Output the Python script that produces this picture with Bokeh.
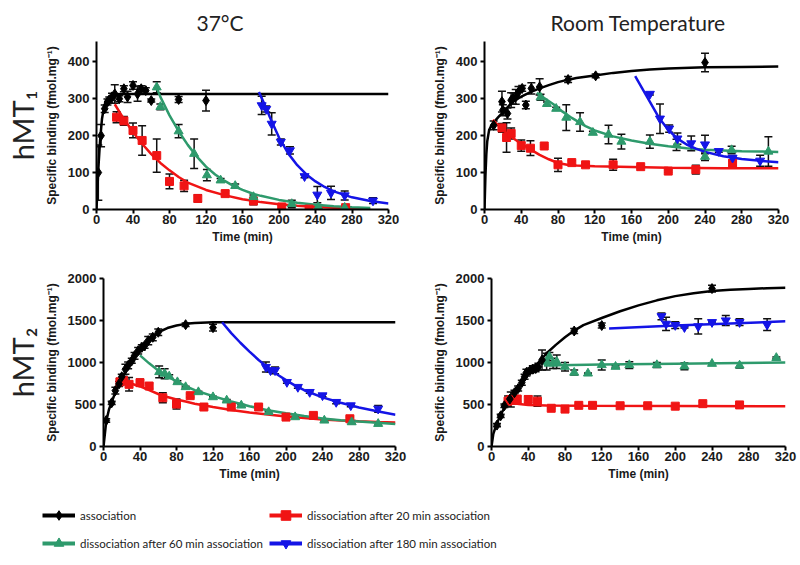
from bokeh.plotting import figure
from bokeh.models import (Range1d, FixedTicker, Whisker, TeeHead, ColumnDataSource,
                          Title, Legend, LegendItem)
from bokeh.layouts import column, row
from bokeh.embed import file_html
from bokeh.resources import INLINE

# ---------------- data ----------------
X_TICKS = [0, 40, 80, 120, 160, 200, 240, 280, 320]
Y_TICKS_MT1 = [0, 100, 200, 300, 400]
Y_TICKS_MT2 = [0, 500, 1000, 1500, 2000]
COL_TITLES = ["37°C", "Room Temperature"]
ROW_TITLES = ["hMT₁", "hMT₂"]
LEGEND_LABELS = ["association", "dissociation after 20 min association",
                 "dissociation after 60 min association", "dissociation after 180 min association"]

# Panel A: 37°C, hMT1
A_assoc_t = [2, 5, 9, 12, 14, 17, 20, 25, 30, 34, 40, 45, 49, 54, 60, 90, 120]
A_assoc_y = [100, 200, 273, 291, 297, 305, 313, 300, 327, 305, 336, 313, 327, 322, 295, 298, 295]
A_assoc_e = [75, 30, 10, 8, 8, 10, 25, 8, 8, 15, 10, 20, 8, 8, 4, 8, 28]
A_assoc_fit_t = [0, 2, 4, 6, 8, 10, 14, 20, 30, 320]
A_assoc_fit_y = [0, 110, 190, 245, 275, 292, 306, 312, 313, 313]
A_d20_t = [22, 30, 40, 50, 66, 80, 96, 111, 141, 172, 203, 233, 273]
A_d20_y = [250, 240, 214, 187, 146, 76, 64, 30, 43, 23, 7, 1, 5]
A_d20_e = [15, 12, 20, 40, 45, 20, 15, 10, 8, 10, 5, 3, 3]
A_d20_fit_t = [20, 30, 40, 50, 60, 70, 80, 90, 100, 120, 140, 160, 180, 200, 220, 240, 260, 280, 300]
A_d20_fit_y = [285, 245, 210, 178, 150, 126, 106, 88, 73, 53, 39, 28, 20, 14, 10, 7, 5, 3, 2]
A_d60_t = [66, 70, 90, 107, 121, 136, 152, 172, 214, 243, 272]
A_d60_y = [331, 278, 212, 151, 93, 79, 64, 34, 15, 7, 5]
A_d60_e = [15, 8, 18, 40, 15, 5, 5, 5, 10, 5, 3]
A_d60_fit_t = [65, 70, 80, 90, 100, 110, 120, 130, 140, 150, 160, 170, 180, 200, 220, 240, 260, 280, 300]
A_d60_fit_y = [335, 305, 255, 212, 175, 143, 116, 95, 78, 64, 53, 44, 37, 26, 18, 13, 9, 6, 4]
A_d180_t = [181, 186, 192, 202, 212, 228, 242, 257, 272, 303]
A_d180_y = [282, 272, 232, 183, 160, 90, 40, 45, 38, 24]
A_d180_e = [25, 8, 30, 8, 10, 4, 22, 18, 12, 8]
A_d180_fit_t = [178, 185, 190, 200, 210, 220, 230, 240, 250, 260, 280, 300, 320]
A_d180_fit_y = [318, 280, 250, 195, 152, 120, 95, 76, 61, 49, 33, 23, 16]

# Panel B: room temperature, hMT1
B_assoc_t = [10, 19, 20, 25, 29, 31, 34, 37, 41, 45, 51, 60, 91, 121, 240]
B_assoc_y = [228, 292, 269, 260, 296, 301, 305, 318, 328, 283, 328, 332, 352, 362, 398]
B_assoc_e = [12, 28, 15, 15, 20, 15, 20, 15, 8, 10, 15, 22, 8, 5, 25]
B_assoc_fit_t = [0, 1, 2, 3, 5, 8, 10, 15, 20, 30, 40, 50, 60, 70, 80, 90, 100, 120, 140, 160, 180, 200, 240, 280, 320]
B_assoc_fit_y = [0, 90, 150, 185, 215, 230, 236, 250, 263, 290, 306, 318, 328, 337, 345, 351, 356, 363, 370, 375, 379, 382, 385, 386, 387]
B_d20_t = [19, 24, 29, 40, 50, 65, 80, 95, 110, 140, 170, 200, 230, 270]
B_d20_y = [221, 195, 206, 173, 166, 172, 121, 127, 121, 121, 116, 104, 108, 125]
B_d20_e = [12, 40, 15, 15, 20, 3, 18, 5, 3, 15, 3, 3, 12, 5]
B_d20_fit_t = [9, 20, 30, 40, 50, 60, 70, 80, 90, 100, 120, 160, 200, 260, 320]
B_d20_fit_y = [243, 215, 195, 178, 163, 148, 136, 126, 121, 119, 117, 115, 113, 112, 112]
B_d60_t = [61, 68, 78, 89, 104, 118, 135, 149, 180, 209, 240, 269, 309]
B_d60_y = [304, 286, 273, 249, 237, 208, 203, 184, 184, 175, 143, 161, 157]
B_d60_e = [8, 5, 4, 35, 25, 4, 25, 20, 18, 15, 10, 10, 40]
B_d60_fit_t = [57, 65, 75, 85, 95, 110, 120, 140, 160, 180, 200, 220, 240, 260, 280, 300, 320]
B_d60_fit_y = [316, 302, 285, 265, 248, 226, 214, 198, 187, 178, 171, 166, 162, 160, 158, 157, 156]
B_d180_t = [180, 191, 201, 210, 225, 240, 255, 270, 300]
B_d180_y = [313, 246, 219, 192, 179, 176, 158, 140, 132]
B_d180_e = [3, 40, 10, 15, 20, 25, 3, 5, 15]
B_d180_fit_t = [164, 176, 190, 200, 210, 220, 230, 240, 260, 280, 300, 320]
B_d180_fit_y = [361, 309, 248, 216, 192, 176, 165, 156, 144, 137, 132, 128]

# Panel C: 37°C, hMT2
C_assoc_t = [3, 9, 13, 17, 20, 24, 27, 31, 34, 38, 42, 45, 49, 54, 60, 90, 120]
C_assoc_y = [310, 520, 665, 745, 830, 920, 965, 1020, 1080, 1140, 1180, 1200, 1260, 1300, 1360, 1450, 1415]
C_assoc_e = [20, 20, 40, 30, 30, 60, 40, 30, 40, 40, 30, 30, 50, 40, 40, 20, 40]
C_assoc_fit_t = [0, 3, 6, 10, 15, 20, 30, 40, 50, 60, 70, 80, 90, 100, 120, 140, 320]
C_assoc_fit_y = [0, 300, 440, 560, 700, 810, 1010, 1160, 1280, 1360, 1410, 1440, 1460, 1470, 1478, 1480, 1480]
C_d20_t = [18, 22, 28, 40, 50, 65, 80, 95, 110, 140, 170, 200, 230, 270]
C_d20_y = [770, 785, 740, 760, 720, 580, 505, 605, 470, 470, 470, 350, 370, 330]
C_d20_e = [40, 50, 80, 40, 30, 60, 60, 20, 25, 20, 20, 20, 20, 20]
C_d20_fit_t = [17, 30, 40, 50, 60, 70, 80, 90, 100, 120, 140, 160, 180, 200, 220, 240, 260, 280, 300, 320]
C_d20_fit_y = [790, 750, 715, 670, 625, 590, 560, 535, 510, 470, 435, 405, 380, 357, 340, 322, 310, 300, 293, 287]
C_d60_t = [61, 67, 72, 81, 90, 104, 120, 135, 151, 181, 210, 242, 272, 301]
C_d60_y = [887, 867, 835, 767, 708, 648, 588, 549, 489, 410, 350, 310, 290, 270]
C_d60_e = [70, 60, 20, 15, 10, 10, 10, 10, 10, 10, 10, 10, 20, 15]
C_d60_fit_t = [40, 50, 60, 70, 80, 90, 100, 120, 140, 160, 180, 200, 220, 240, 260, 280, 300, 320]
C_d60_fit_y = [1085, 990, 905, 835, 775, 720, 670, 600, 535, 480, 432, 395, 362, 333, 312, 297, 282, 268]
C_d180_t = [178, 183, 188, 201, 213, 226, 240, 255, 271, 301]
C_d180_y = [946, 906, 906, 767, 708, 648, 608, 529, 489, 449]
C_d180_e = [60, 20, 40, 15, 15, 15, 15, 20, 15, 40]
C_d180_fit_t = [130, 140, 150, 160, 170, 180, 190, 200, 210, 220, 240, 260, 280, 300, 320]
C_d180_fit_y = [1480, 1350, 1235, 1130, 1030, 940, 860, 790, 725, 670, 585, 520, 465, 420, 378]

# Panel D: room temperature, hMT2
D_assoc_t = [6, 10, 14, 20, 25, 29, 33, 36, 38, 42, 45, 48, 51, 55, 90, 120, 240]
D_assoc_y = [255, 365, 485, 565, 640, 690, 760, 830, 880, 905, 920, 930, 950, 1030, 1375, 1440, 1880]
D_assoc_e = [20, 20, 20, 40, 30, 30, 30, 30, 40, 30, 40, 40, 40, 120, 30, 30, 40]
D_assoc_fit_t = [0, 2, 5, 10, 15, 20, 30, 40, 50, 60, 70, 80, 90, 100, 120, 140, 160, 180, 200, 220, 240, 260, 280, 300, 320]
D_assoc_fit_y = [0, 150, 250, 380, 480, 570, 720, 860, 985, 1110, 1210, 1300, 1380, 1445, 1530, 1610, 1680, 1740, 1790, 1825, 1850, 1865, 1876, 1884, 1890]
D_d20_t = [18, 21, 23, 28, 40, 50, 65, 80, 95, 110, 140, 170, 200, 230, 270]
D_d20_y = [540, 560, 550, 565, 560, 540, 455, 445, 490, 490, 485, 485, 480, 510, 495]
D_d20_e = [60, 90, 40, 30, 40, 60, 10, 15, 10, 10, 5, 5, 5, 20, 10]
D_d20_fit_t = [18, 30, 40, 60, 100, 200, 320]
D_d20_fit_y = [525, 505, 495, 488, 484, 481, 480]
D_d60_t = [60, 63, 67, 71, 80, 90, 105, 120, 135, 150, 180, 210, 240, 270, 310]
D_d60_y = [1010, 1070, 990, 1010, 950, 880, 870, 970, 950, 970, 970, 955, 985, 965, 1055]
D_d60_e = [100, 50, 60, 80, 50, 30, 5, 60, 10, 40, 30, 40, 10, 30, 10]
D_d60_fit_t = [57, 120, 200, 320]
D_d60_fit_y = [965, 975, 985, 1000]
D_d180_t = [185, 190, 200, 210, 225, 240, 255, 270, 300]
D_d180_y = [1550, 1460, 1445, 1420, 1430, 1480, 1500, 1480, 1450]
D_d180_e = [40, 80, 40, 10, 90, 10, 60, 40, 70]
D_d180_fit_t = [128, 200, 260, 320]
D_d180_fit_y = [1405, 1440, 1465, 1490]

# ---------------- styles ----------------
SERIES = ["assoc", "d20", "d60", "d180"]
COLORS = {"assoc": "#000000", "d20": "#f01414", "d60": "#2e9a6c", "d180": "#1414e6"}
MARKERS = {"assoc": "diamond", "d20": "square", "d60": "triangle", "d180": "inverted_triangle"}
SIZES = {"assoc": 10, "d20": 8, "d60": 9, "d180": 9}

G = globals()


def panel(key, y_end, y_ticks, bl, fw, br, bt, bb, title=None, title_offset=0, row_label=None):
    p = figure(frame_width=fw, frame_height=168, x_range=Range1d(0, 320),
               y_range=Range1d(0, y_end), output_backend="svg", toolbar_location=None,
               min_border_left=bl, min_border_right=br, min_border_top=bt,
               min_border_bottom=bb, title=title)
    if title is not None:
        p.title.align = "left"
        p.title.offset = title_offset
        p.title.text_font = "Lato"
        p.title.text_font_size = "21px"
        p.title.text_font_style = "normal"
        p.title.text_color = "#222222"
        p.title.standoff = 14
    p.outline_line_color = None
    p.xgrid.visible = False
    p.ygrid.visible = False
    for ax in (p.xaxis[0], p.yaxis[0]):
        ax.axis_line_width = 2
        ax.major_tick_line_width = 2
        ax.major_tick_out = 4
        ax.major_tick_in = 0
        ax.minor_tick_line_color = None
        ax.major_label_text_font = "Liberation Sans"
        ax.major_label_text_font_style = "bold"
        ax.major_label_text_font_size = "13px"
        ax.major_label_text_color = "#1a1a1a"
        ax.axis_label_text_font = "Liberation Sans"
        ax.axis_label_text_font_style = "bold"
        ax.axis_label_text_font_size = "12px"
        ax.axis_label_text_color = "#1a1a1a"
    p.xaxis[0].ticker = FixedTicker(ticks=X_TICKS)
    p.yaxis[0].ticker = FixedTicker(ticks=y_ticks)
    p.xaxis[0].axis_label = "Time (min)"
    p.yaxis[0].axis_label = "Specific binding (fmol.mg⁻¹)"
    p.xaxis[0].major_label_standoff = 1
    p.xaxis[0].axis_label_standoff = 3
    p.yaxis[0].major_label_standoff = 3
    p.yaxis[0].axis_label_standoff = 6
    if row_label is not None:
        p.add_layout(Title(text=row_label, text_font="Lato", text_font_size="29px",
                           text_font_style="normal", text_color="#222222",
                           align="center", standoff=4), "left")

    for s in SERIES:
        p.line(G[f"{key}_{s}_fit_t"], G[f"{key}_{s}_fit_y"], line_color=COLORS[s], line_width=2.5)
    for s in ["d20", "d60", "d180", "assoc"]:
        t = G[f"{key}_{s}_t"]
        y = G[f"{key}_{s}_y"]
        e = G[f"{key}_{s}_e"]
        p.scatter(t, y, marker=MARKERS[s], size=SIZES[s], fill_color=COLORS[s],
                  line_color=COLORS[s])
        src = ColumnDataSource(dict(x=t, lower=[a - b for a, b in zip(y, e)],
                                    upper=[a + b for a, b in zip(y, e)]))
        p.add_layout(Whisker(source=src, base="x", upper="upper", lower="lower",
                             line_color="#111111", line_width=1.5,
                             upper_head=TeeHead(size=8, line_color="#111111", line_width=1.5),
                             lower_head=TeeHead(size=8, line_color="#111111", line_width=1.5)))
    return p


pA = panel("A", 455, Y_TICKS_MT1, 90, 292, 22, 35, 49, title=COL_TITLES[0], title_offset=100,
           row_label=ROW_TITLES[0])
pB = panel("B", 455, Y_TICKS_MT1, 74, 294, 12, 35, 49, title=COL_TITLES[1], title_offset=66)
pC = panel("C", 2000, Y_TICKS_MT2, 90, 292, 22, 20, 40, row_label=ROW_TITLES[1])
pD = panel("D", 2000, Y_TICKS_MT2, 74, 294, 12, 20, 40)

# ---------------- legend ----------------
lf = figure(width=784, height=69, min_border=0, x_axis_location=None, y_axis_location=None,
            toolbar_location=None, output_backend="svg", x_range=Range1d(0, 1),
            y_range=Range1d(0, 1))
lf.outline_line_color = None
lf.grid.visible = False
NAN = [float("nan")]
items = []
for s, lab in zip(SERIES, LEGEND_LABELS):
    ln = lf.line(x=NAN, y=NAN, line_color=COLORS[s], line_width=4)
    sc = lf.scatter(x=NAN, y=NAN, marker=MARKERS[s], size=16, fill_color=COLORS[s],
                    line_color=COLORS[s])
    items.append(LegendItem(label=lab, renderers=[ln, sc]))
legend = Legend(items=items, location=(42, 0), orientation="horizontal", ncols=2,
                glyph_width=33, glyph_height=24, label_standoff=5, spacing=4,
                padding=0, margin=0, border_line_color=None, background_fill_alpha=0,
                label_text_font="Lato", label_text_font_size="11.5px", label_width=185,
                label_height=24, label_text_color="#222222")
lf.add_layout(legend, "center")

layout = column(row(pA, pB), row(pC, pD), lf)
open("out.html", "w").write(file_html(layout, INLINE))
